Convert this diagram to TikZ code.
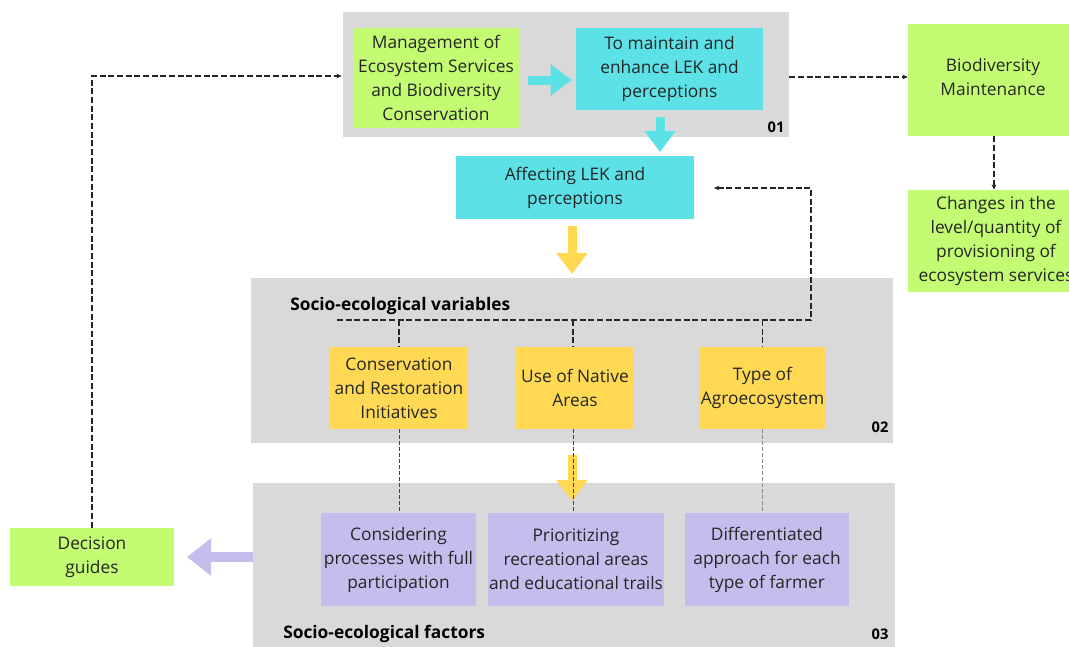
\documentclass[tikz,border=0pt]{standalone}
\usepackage{fontspec}
\setmainfont{Open Sans}
\usetikzlibrary{arrows.meta}
\definecolor{lgreen}{RGB}{195,252,115}
\definecolor{lcyan}{RGB}{92,225,230}
\definecolor{lyellow}{RGB}{255,217,84}
\definecolor{lpurple}{RGB}{196,190,236}
\definecolor{lgray}{RGB}{217,217,217}
\newcommand\pxu{0.75pt}
\tikzset{
  box/.style={inner sep=0pt, align=center, font=\fontsize{13}{18}\selectfont, text=black!85},
  panel/.style={fill=lgray, inner sep=0pt},
  gbox/.style={box, fill=lgreen},
  cbox/.style={box, fill=lcyan},
  ybox/.style={box, fill=lyellow},
  pbox/.style={box, fill=lpurple},
  bigarrow/.style={line width=9*\pxu, -{Triangle[width=30*\pxu,length=21*\pxu]}},
  purplearrow/.style={line width=10*\pxu, -{Triangle[width=36*\pxu,length=24*\pxu]}},
  dashlink/.style={black!85, line width=0.8pt, dash pattern=on 4.5pt off 2pt, -{Stealth[length=4pt,width=3.5pt]}},
  dashplain/.style={black!85, line width=0.8pt, dash pattern=on 4.5pt off 2pt},
  thinlink/.style={black!75, line width=0.5pt, dash pattern=on 3pt off 1.5pt},
  paneltitle/.style={font=\fontsize{13}{15}\selectfont\bfseries, anchor=west, inner sep=0pt},
  panelnum/.style={font=\fontsize{11}{13}\selectfont\bfseries, inner sep=0pt},
}
\begin{document}
\begin{tikzpicture}[x=0.75pt,y=-0.75pt]
\useasboundingbox (0,0) rectangle (1069,646);
\clip (0,0) rectangle (1069,646);
% panels
\node[panel, minimum width=446*\pxu, minimum height=125*\pxu] (p1) at (566,74.5) {};
\node[panel, minimum width=642*\pxu, minimum height=165*\pxu] (p2) at (572,360.5) {};
\node[panel, minimum width=642*\pxu, minimum height=167*\pxu] (p3) at (574,566.5) {};
\node[panelnum] (n1) at (776,127) {01};
\node[panelnum] (n2) at (880,427) {02};
\node[panelnum] (n3) at (880,634) {03};
\node[paneltitle] (t2) at (290,306) {Socio-ecological variables};
\node[paneltitle] (t3) at (283,634) {Socio-ecological factors};
% boxes
\node[gbox, minimum width=166*\pxu, minimum height=100*\pxu] (mgmt) at (436,78) {Management of\\Ecosystem Services\\and Biodiversity\\Conservation};
\node[cbox, minimum width=187*\pxu, minimum height=82*\pxu] (maint) at (669.5,69) {To maintain and\\enhance LEK and\\perceptions};
\node[cbox, minimum width=238*\pxu, minimum height=63*\pxu] (affect) at (575,187.5) {Affecting LEK and\\perceptions};
\node[ybox, minimum width=138*\pxu, minimum height=82*\pxu] (cons) at (399,388) {Conservation\\and Restoration\\Initiatives};
\node[ybox, minimum width=118*\pxu, minimum height=82*\pxu] (native) at (575,388) {Use of Native\\Areas};
\node[ybox, minimum width=127*\pxu, minimum height=82*\pxu] (agro) at (762.5,388) {Type of\\Agroecosystem};
\node[pbox, minimum width=155*\pxu, minimum height=93*\pxu] (consid) at (398.5,559.5) {Considering\\processes with full\\participation};
\node[pbox, minimum width=176*\pxu, minimum height=93*\pxu] (prior) at (576,559.5) {Prioritizing\\recreational areas\\and educational trails};
\node[pbox, minimum width=164*\pxu, minimum height=93*\pxu] (diff) at (767,559.5) {Differentiated\\approach for each\\type of farmer};
\node[gbox, minimum width=164*\pxu, minimum height=58*\pxu] (dec) at (92,557) {Decision\\guides};
\node[gbox, minimum width=170*\pxu, minimum height=112*\pxu, text depth=7*\pxu] (bio) at (993,80) {Biodiversity\\Maintenance};
\node[gbox, minimum width=176*\pxu, minimum height=102*\pxu] (chg) at (996,241) {Changes in the\\level/quantity of\\provisioning of\\ecosystem services};
% block arrows
\draw[bigarrow, lcyan] ([xshift=9*\pxu,yshift=-2*\pxu]mgmt.east) -- ([xshift=-4*\pxu]maint.west |- 0,80);
\draw[bigarrow, lcyan] (660,117) -- (660,152);
\draw[bigarrow, lyellow] (572,226) -- (572,274);
\draw[bigarrow, lyellow] (572,455) -- (572,501);
\draw[purplearrow, lpurple] (p3.west |- 0,557) -- (187,557);
% dashed connectors
\coordinate (loopL) at (337,320);
\coordinate (loopR) at (811,320);
\coordinate (loopT) at (714,188);
\draw[dashlink] (dec.north) |- ([xshift=-1*\pxu]p1.west |- 0,76);
\draw[dashlink] (p1.east |- 0,77) -- (bio.west |- 0,77);
\draw[dashlink] (bio.south -| 994,0) -- (chg.north -| 994,0);
\draw[dashlink] (loopL) -- (loopR) -- (loopR |- loopT) -- (loopT);
\draw[dashplain] (cons.north |- loopL) -- (cons.north);
\draw[dashplain] (loopL -| 573,0) -- (native.north -| 573,0);
\draw[dashplain] (agro.north |- loopL) -- (agro.north);
\draw[thinlink] (cons.south) -- (consid.north -| cons.south);
\draw[thinlink] (native.south -| 573,0) -- (prior.north -| 573,0);
\draw[thinlink, black!45] (agro.south) -- (diff.north -| agro.south);
\end{tikzpicture}
\end{document}
